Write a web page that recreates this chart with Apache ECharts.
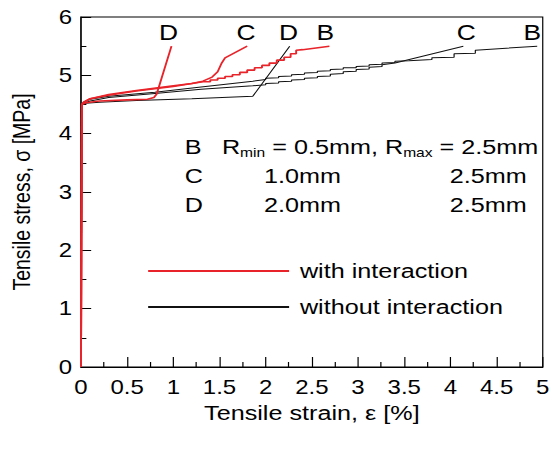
<!DOCTYPE html>
<html>
<head>
<meta charset="utf-8">
<script src="https://cdn.jsdelivr.net/npm/echarts@6/dist/echarts.min.js"></script>
<style>
  html, body { margin: 0; background: #fff; overflow: hidden; }
  /* the reference figure is stretched sideways, so draw narrow and widen */
  #chart { width: 461px; height: 449px; transform: scaleX(1.1996); transform-origin: 0 0; }
</style>
</head>
<body>
<div id="chart"></div>
<script>
// strain [%], stress [MPa]
const redB = [[0, 0], [0.01, 4.5], [0.03, 4.54], [0.1, 4.6], [0.3, 4.66], [0.6, 4.73], [1.0, 4.81], [1.32, 4.89],
  [1.40, 4.89], [1.40, 4.92], [1.48, 4.92], [1.48, 4.95], [1.56, 4.95], [1.56, 4.98], [1.64, 4.98], [1.64, 5.01],
  [1.72, 5.01], [1.72, 5.05], [1.80, 5.05], [1.80, 5.09], [1.88, 5.09], [1.88, 5.13], [1.96, 5.13], [1.96, 5.17],
  [2.04, 5.17], [2.04, 5.21], [2.12, 5.21], [2.12, 5.26], [2.20, 5.26], [2.20, 5.31], [2.27, 5.31], [2.27, 5.37],
  [2.33, 5.37], [2.33, 5.43], [2.40, 5.44], [2.69, 5.5]]
const redC = [[0, 0], [0.01, 4.5], [0.03, 4.54], [0.1, 4.6], [0.3, 4.67], [0.6, 4.74], [1.0, 4.82], [1.2, 4.86],
  [1.32, 4.9], [1.42, 4.97], [1.48, 5.06], [1.52, 5.2], [1.56, 5.3], [1.8, 5.5]]
const redD = [[0, 0], [0.01, 4.5], [0.05, 4.53], [0.2, 4.56], [0.5, 4.58], [0.72, 4.59], [0.79, 4.62], [0.82, 4.68], [0.98, 5.5]]
const blackB = [[0, 0], [0.01, 4.5], [0.03, 4.54], [0.1, 4.59], [0.3, 4.64], [0.8, 4.71], [1.3, 4.8], [1.86, 4.9],
  [2.0, 4.93], [2.0, 4.95], [2.14, 4.96], [2.14, 4.98], [2.28, 4.99], [2.28, 5.01], [2.42, 5.02], [2.42, 5.04],
  [2.56, 5.05], [2.56, 5.07], [2.7, 5.08], [2.7, 5.1], [2.84, 5.11], [2.84, 5.13], [2.98, 5.13], [2.98, 5.15],
  [3.12, 5.16], [3.12, 5.18], [3.26, 5.19], [3.26, 5.21], [3.4, 5.22], [3.4, 5.24], [3.55, 5.25], [3.8, 5.27],
  [3.8, 5.3], [4.04, 5.31], [4.04, 5.37], [4.27, 5.38], [4.27, 5.43], [4.94, 5.5]]
const blackC = [[0, 0], [0.01, 4.5], [0.03, 4.52], [0.1, 4.56], [0.3, 4.62], [0.8, 4.69], [1.3, 4.76], [1.86, 4.82],
  [2.0, 4.84], [2.0, 4.86], [2.14, 4.87], [2.14, 4.89], [2.28, 4.9], [2.28, 4.92], [2.42, 4.93], [2.42, 4.95],
  [2.56, 4.96], [2.56, 4.98], [2.7, 4.99], [2.7, 5.02], [2.84, 5.03], [2.84, 5.06], [2.98, 5.07], [2.98, 5.1],
  [3.12, 5.11], [3.12, 5.14], [3.26, 5.15], [3.26, 5.18], [3.4, 5.21], [4.14, 5.5]]
const blackD = [[0, 0], [0.01, 4.5], [0.05, 4.52], [0.2, 4.54], [0.6, 4.57], [1.2, 4.6], [1.86, 4.64], [2.26, 5.5]]

const legendNames = ['with interaction', 'without interaction']
const noteRows = [
  ['B', '', ''],
  ['C', '1.0mm', '2.5mm'],
  ['D', '2.0mm', '2.5mm']
]

const font = "'Liberation Sans', Arial, sans-serif"
const red = '#e8242a'
const black = '#111'

const chart = echarts.init(document.getElementById('chart'), null, { renderer: 'svg' })

const curve = (name, data, color, width, tag, dx) => ({
  type: 'line',
  name,
  data,
  showSymbol: false,
  lineStyle: { color, width },
  itemStyle: { color },
  animation: false,
  markPoint: {
    symbol: 'circle',
    symbolSize: 1,
    itemStyle: { color: 'rgba(0,0,0,0)' },
    label: { show: true, formatter: tag, position: 'top', distance: 2, offset: [dx, 0], color: '#000', fontSize: 22, fontFamily: font },
    data: [{ coord: data[data.length - 1] }]
  }
})

const rowY = [147, 176, 205]
const noteText = (x, y, text, align) => ({
  type: 'text', x, y,
  style: { text, fontSize: 21, fontFamily: font, fill: '#000', align: align || 'left', verticalAlign: 'middle' }
})
const notes = []
noteRows.forEach((row, i) => {
  notes.push(noteText(154, rowY[i], row[0]))
  if (row[1]) {
    notes.push(noteText(220, rowY[i], row[1]))
    notes.push(noteText(439, rowY[i], row[2], 'right'))
  }
})
notes.push({
  type: 'text', x: 185, y: rowY[0] - 12,
  style: {
    text: '{r|R}{s|min}{r| = 0.5mm, R}{s|max}{r| = 2.5mm}',
    fill: '#000',
    rich: {
      r: { fontSize: 21, fontFamily: font, lineHeight: 24, verticalAlign: 'middle' },
      s: { fontSize: 13, fontFamily: font, lineHeight: 13, verticalAlign: 'bottom' }
    }
  }
})

chart.setOption({
  animation: false,
  grid: { left: 67.5, right: 6, top: 17, bottom: 82, show: true, borderColor: '#000', borderWidth: 1 },
  legend: {
    orient: 'vertical',
    left: 123.5,
    top: 259,
    padding: 0,
    itemWidth: 117.5,
    itemHeight: 2,
    itemGap: 12,
    icon: 'rect',
    data: legendNames,
    textStyle: { fontSize: 21, fontFamily: font, color: '#000', lineHeight: 24, padding: [0, 0, 0, 4] }
  },
  xAxis: {
    type: 'value',
    min: 0,
    max: 5,
    interval: 0.5,
    name: 'Tensile strain, ε [%]',
    nameLocation: 'middle',
    nameGap: 33,
    nameTextStyle: { fontSize: 21, fontFamily: font, color: '#000' },
    axisLine: { lineStyle: { color: '#000', width: 1 } },
    axisTick: { inside: true, length: 10, lineStyle: { color: '#000' } },
    minorTick: { show: true, splitNumber: 2, length: 5, lineStyle: { color: '#000' } },
    splitLine: { show: false },
    axisLabel: { fontSize: 20, fontFamily: font, color: '#000', margin: 10 }
  },
  yAxis: {
    type: 'value',
    min: 0,
    max: 6,
    interval: 1,
    name: 'Tensile stress, σ [MPa]',
    nameLocation: 'middle',
    nameGap: 39,
    nameTextStyle: { fontSize: 19.5, fontFamily: font, color: '#000' },
    axisLine: { show: true, lineStyle: { color: '#000', width: 1 } },
    axisTick: { show: true, inside: true, length: 8.5, lineStyle: { color: '#000' } },
    minorTick: { show: true, splitNumber: 2, length: 4.5, lineStyle: { color: '#000' } },
    splitLine: { show: false },
    axisLabel: { fontSize: 20, fontFamily: font, color: '#000', margin: 7.5 }
  },
  graphic: notes,
  series: [
    curve(legendNames[1], blackB, black, 1, 'B', -4),
    curve(legendNames[1], blackC, black, 1, 'C', 2.5),
    curve(legendNames[1], blackD, black, 1, 'D', -1),
    curve(legendNames[0], redB, red, 1.6, 'B', -3.5),
    curve(legendNames[0], redC, red, 1.6, 'C', -1),
    curve(legendNames[0], redD, red, 1.6, 'D', -2.5)
  ]
})
</script>
</body>
</html>
